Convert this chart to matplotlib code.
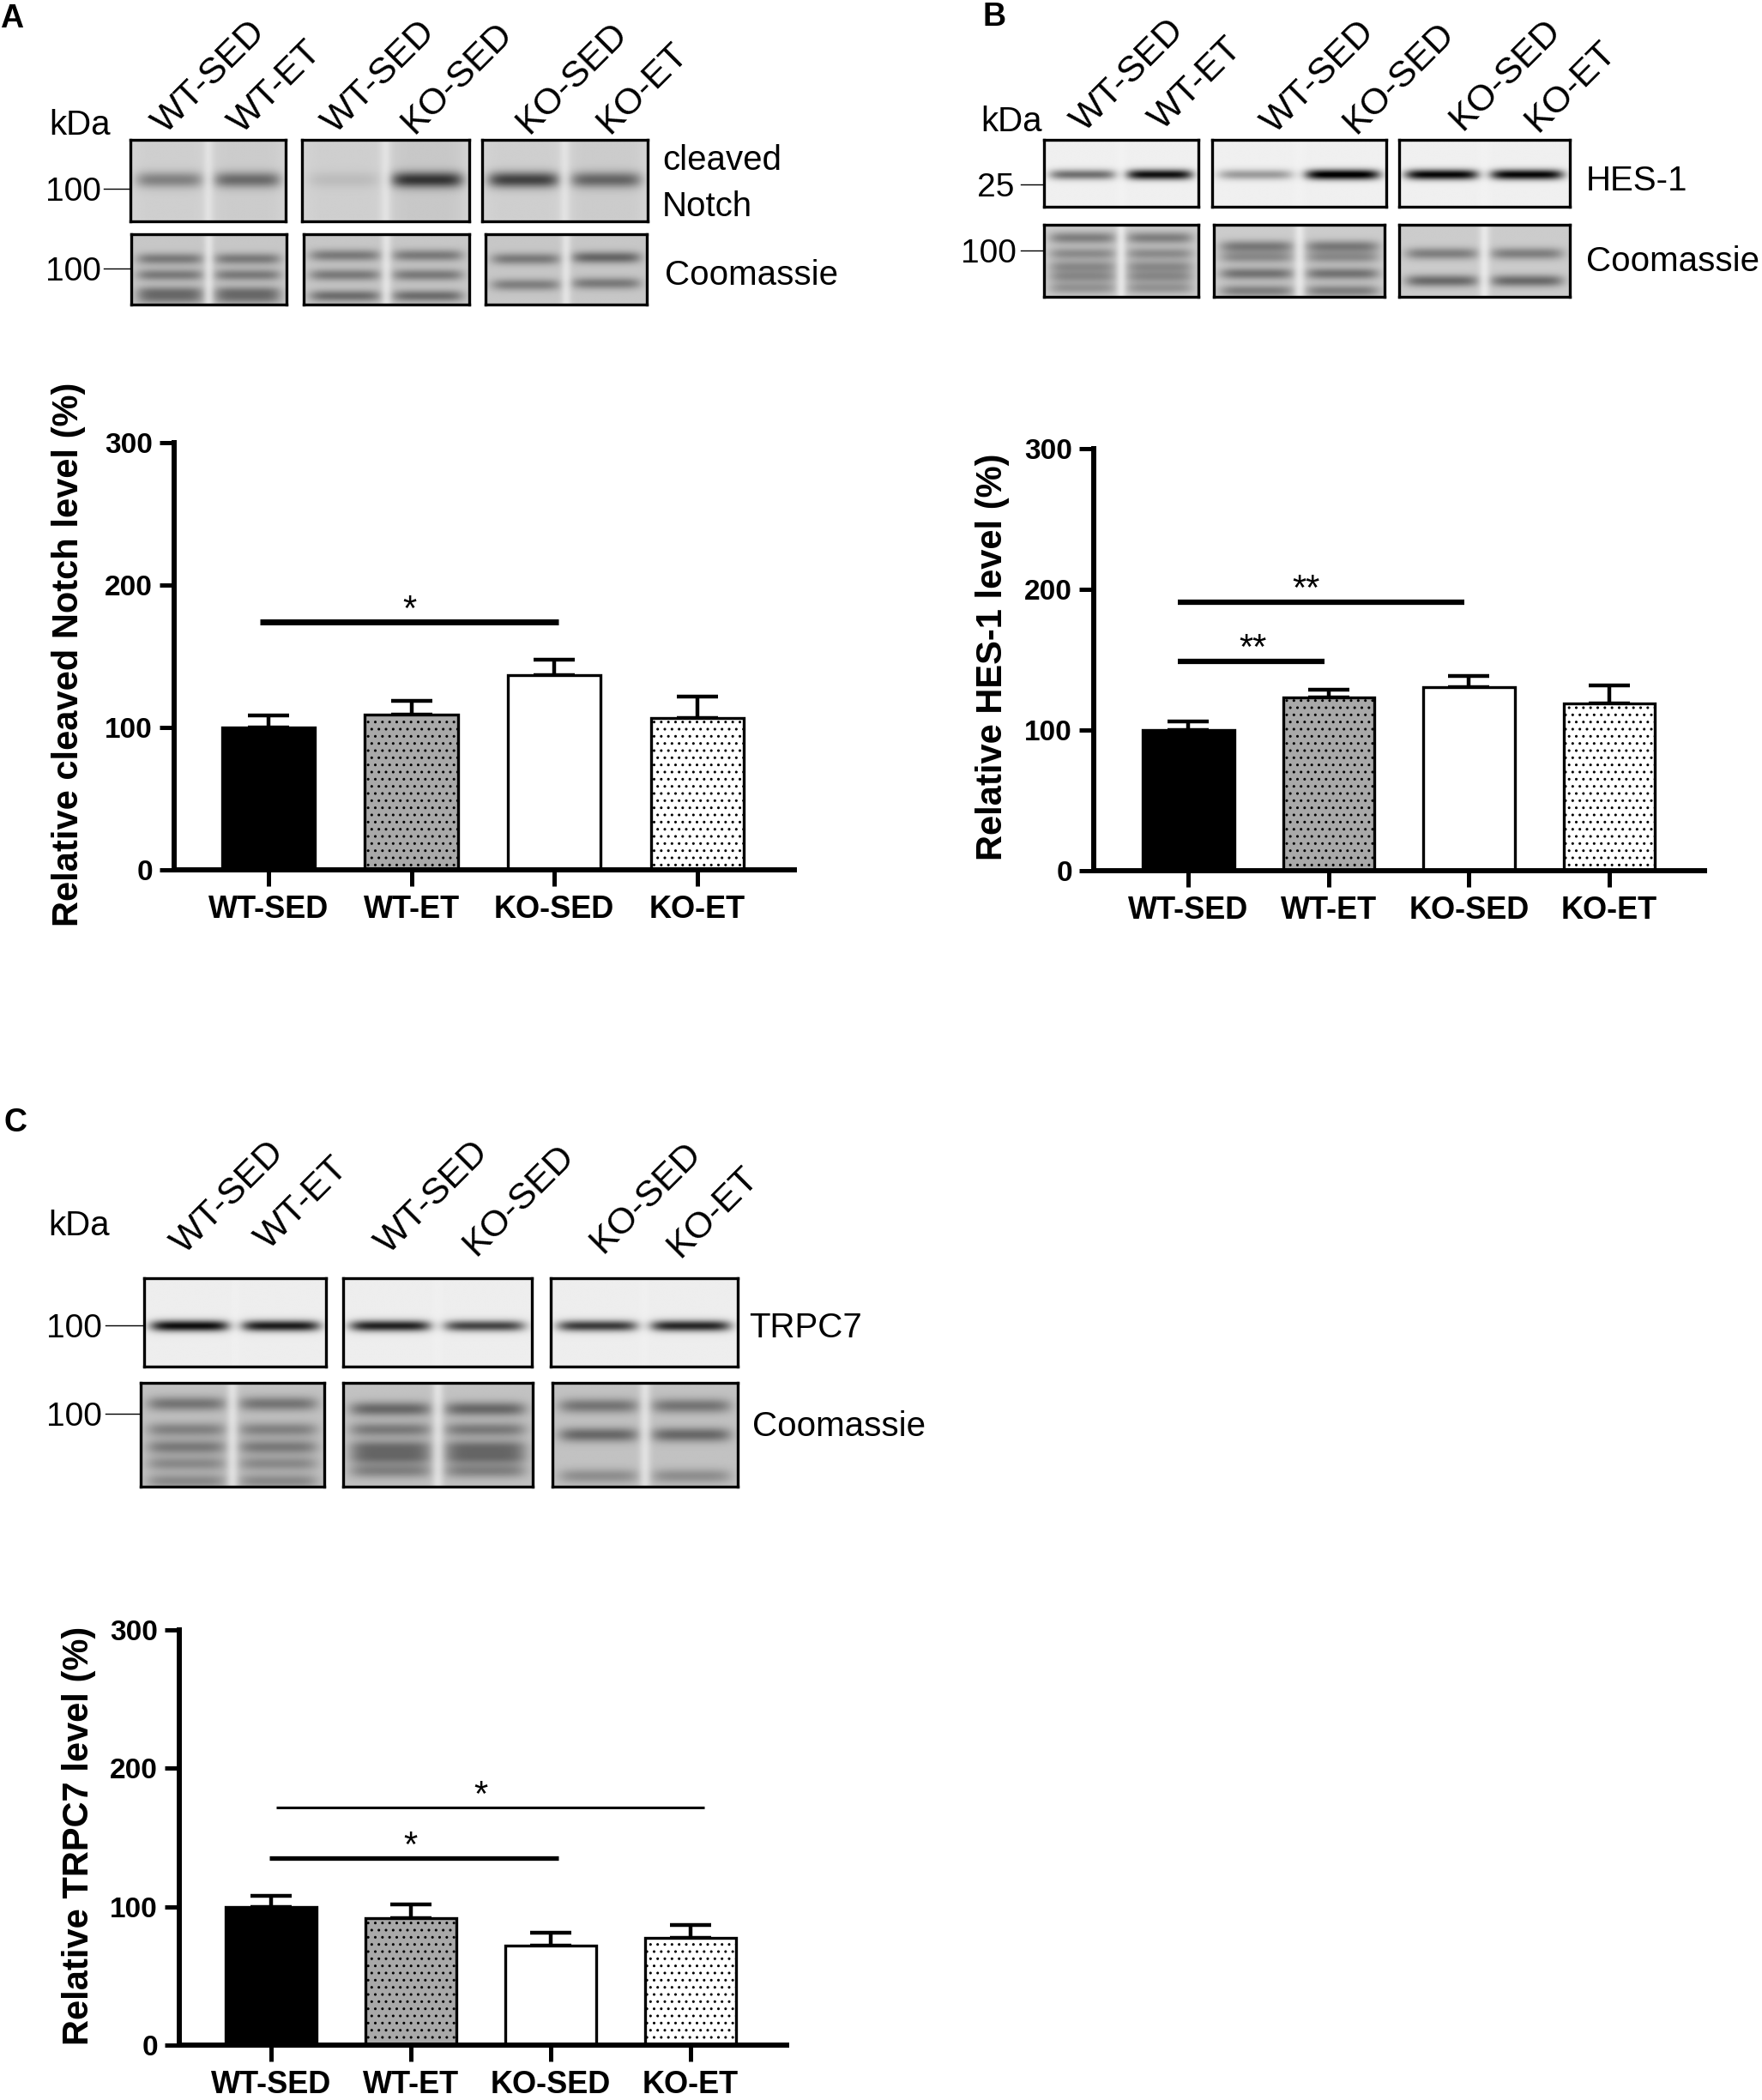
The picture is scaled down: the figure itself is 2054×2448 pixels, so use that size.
import numpy as np
import matplotlib
matplotlib.use("Agg")
import matplotlib.pyplot as plt

plt.rcParams['font.family'] = ['Liberation Sans', 'DejaVu Sans']
plt.rcParams['hatch.linewidth'] = 1.0

# ---------------- data ----------------
categories = ['WT-SED', 'WT-ET', 'KO-SED', 'KO-ET']
yticks = [0, 100, 200, 300]

notch_mean = [100, 109, 137, 106.5]
notch_sem = [8.7, 9.6, 10.6, 15.0]
hes1_mean = [100, 123, 130.5, 119]
hes1_sem = [6.2, 5.5, 7.8, 12.7]
trpc7_mean = [100, 92, 72, 77.5]
trpc7_sem = [7.6, 9.9, 9.4, 9.0]

# significance brackets (category positions, height, label)
notch_sig_x1 = [-0.06]
notch_sig_x2 = [2.03]
notch_sig_y = [174]
notch_sig_tx = [0.99]
notch_sig_txt = ['*']

hes1_sig_x1 = [-0.075, -0.075]
hes1_sig_x2 = [0.97, 1.97]
hes1_sig_y = [149, 191]
hes1_sig_tx = [0.46, 0.84]
hes1_sig_txt = ['**', '**']

trpc7_sig_x1 = [-0.01, 0.04]
trpc7_sig_x2 = [2.06, 3.10]
trpc7_sig_y = [135, 171.5]
trpc7_sig_tx = [1.0, 1.5]
trpc7_sig_txt = ['*', '*']

lane_groups = [['WT-SED', 'WT-ET'], ['WT-SED', 'KO-SED'], ['KO-SED', 'KO-ET']]

# band intensities per blot box (two lanes each)
notch_band = [[0.30, 0.38], [0.07, 0.58], [0.55, 0.40]]
hes1_band = [[0.50, 0.88], [0.33, 0.97], [0.92, 0.92]]
trpc7_band = [[0.88, 0.82], [0.80, 0.66], [0.70, 0.78]]

# ---------------- style ----------------
W, H = 2054, 2448
bar_fill = ['black', '#a9a9a9', 'white', 'white']
bar_hatch = [None, '..', None, '..']

fig = plt.figure(figsize=(W / 100, H / 100), dpi=100)
ov = fig.add_axes([0, 0, 1, 1], zorder=5)
ov.set_xlim(0, W)
ov.set_ylim(H, 0)
ov.axis('off')


def rect(L, R, T, B):
    return [L / W, 1 - B / H, (R - L) / W, (B - T) / H]


def gel(lane_bands, bg, sig, gap=0.35, h=160, w=320, extra=None):
    yy = np.linspace(0, 1, h)[:, None]
    xx = np.linspace(0, 1, w)[None, :]
    img = np.full((h, w), float(bg))
    for i, bands in enumerate(lane_bands):
        cx = 0.25 + 0.5 * i
        lane = np.exp(-((xx - cx) / 0.215) ** 6)
        for pos, inten in bands:
            img = img + inten * lane * np.exp(-0.5 * ((yy - pos) / sig) ** 2)
        if extra is not None:
            img = img + extra[i] * lane
    stripe = np.exp(-0.5 * ((xx - 0.5) / 0.022) ** 2)
    img = img * (1 - gap * stripe)
    return np.clip(img, 0, 1)


def blot_box(L, R, T, B, img):
    a = fig.add_axes(rect(L, R, T, B))
    a.imshow(img, cmap='gray_r', vmin=0, vmax=1, aspect='auto', interpolation='bilinear')
    a.set_xticks([])
    a.set_yticks([])
    for s in a.spines.values():
        s.set_linewidth(2.4)
        s.set_color('black')
    return a


def marker(y, text_right, x0, x1, label):
    ov.text(text_right, y + 14, label, ha='right', va='baseline', fontsize=28)
    ov.plot([x0, x1], [y, y], color='black', lw=1.0)


def lane_labels(xs, ys):
    names = [n for g in lane_groups for n in g]
    for x, y, n in zip(xs, ys, names):
        ov.text(x, y, n, rotation=45, rotation_mode='anchor', ha='left',
                va='baseline', fontsize=31)


def bar_panel(L, R, T, B, xlim, means, sems, sx1, sx2, sy, stx, stxt, slw,
              ylabel, ylx, yly):
    ax = fig.add_axes(rect(L, R, T, B))
    x = np.arange(len(categories))
    ax.errorbar(x, means, yerr=[np.zeros(len(means)), sems], fmt='none',
                ecolor='black', elinewidth=3.2, capsize=17, capthick=3.2, zorder=1)
    bars = ax.bar(x, means, width=0.65, color=bar_fill, edgecolor='black',
                  linewidth=2.4, zorder=2)
    for b, h in zip(bars, bar_hatch):
        if h:
            b.set_hatch(h)
    for a1, a2, yv, tx, t, lw in zip(sx1, sx2, sy, stx, stxt, slw):
        ax.plot([a1, a2], [yv, yv], color='black', lw=lw, solid_capstyle='butt',
                zorder=3, clip_on=False)
        ax.text(tx, yv + 1.5, t, ha='center', va='baseline', fontsize=30)
    ax.set_xlim(*xlim)
    ax.set_ylim(0, 300)
    ax.set_yticks(yticks)
    ax.set_yticklabels([str(v) for v in yticks], fontsize=24, fontweight='bold')
    ax.set_xticks(x)
    ax.set_xticklabels(categories, fontsize=26, fontweight='bold')
    ax.tick_params(axis='y', length=12, width=3.6, pad=6)
    ax.tick_params(axis='x', length=14, width=3.6, pad=7)
    for s in ['top', 'right']:
        ax.spines[s].set_visible(False)
    for s in ['left', 'bottom']:
        ax.spines[s].set_linewidth(4.3)
    ax.patch.set_alpha(0)
    ov.text(ylx, yly, ylabel, rotation=90, ha='center', va='center',
            fontsize=30, fontweight='bold')
    return ax


# ======================= Panel A =======================
ov.text(0, 32, 'A', fontsize=27, fontweight='bold', va='baseline')
ov.text(57, 157, 'kDa', fontsize=29, va='baseline')
lane_labels([193, 282, 391, 483, 617, 710], [157] * 6)
A_top = [(152, 333), (352, 547), (562, 755)]
A_bot = [(153, 334), (354, 547), (566, 754)]
for (l, r), inten in zip(A_top, notch_band):
    blot_box(l, r, 163, 258, gel([[(0.49, inten[0])], [(0.49, inten[1])]],
                                 0.17, 0.07, extra=[0.02, 0.08 * inten[1]]))
A_coom = [
    [[(0.35, 0.30), (0.58, 0.30), (0.82, 0.28), (0.92, 0.25)]] * 2,
    [[(0.30, 0.30), (0.58, 0.30), (0.88, 0.35)]] * 2,
    [[(0.35, 0.30), (0.72, 0.28)], [(0.33, 0.38), (0.70, 0.30)]],
]
for (l, r), lb in zip(A_bot, A_coom):
    blot_box(l, r, 273, 355, gel(lb, 0.22, 0.06, gap=0.5))
marker(220, 118, 121, 152, '100')
marker(313, 118, 121, 153, '100')
ov.text(772, 188 + 10, 'cleaved', fontsize=29, va='baseline')
ov.text(772, 238 + 14, 'Notch', fontsize=29, va='baseline')
ov.text(775, 318 + 14, 'Coomassie', fontsize=29, va='baseline')

bar_panel(203, 926, 516, 1014, (-0.66, 3.68), notch_mean, notch_sem,
          notch_sig_x1, notch_sig_x2, notch_sig_y, notch_sig_tx, notch_sig_txt, [5.0],
          'Relative cleaved Notch level (%)', 80, 763)

# ======================= Panel B =======================
ov.text(1146, 30, 'B', fontsize=27, fontweight='bold', va='baseline')
ov.text(1143, 153, 'kDa', fontsize=29, va='baseline')
lane_labels([1264, 1355, 1486, 1580, 1705, 1793], [155, 153, 157, 157, 153, 155])
B_top = [(1217, 1397), (1413, 1616), (1631, 1830)]
B_bot = [(1217, 1397), (1415, 1614), (1631, 1830)]
for (l, r), inten in zip(B_top, hes1_band):
    blot_box(l, r, 163, 241, gel([[(0.52, inten[0])], [(0.52, inten[1])]],
                                 0.06, 0.055, gap=0.15))
B_coom = [
    [[(0.18, 0.30), (0.40, 0.25), (0.58, 0.25), (0.72, 0.25), (0.88, 0.22)]] * 2,
    [[(0.30, 0.32), (0.45, 0.25), (0.68, 0.35), (0.92, 0.30)]] * 2,
    [[(0.40, 0.30), (0.78, 0.38)]] * 2,
]
for (l, r), lb in zip(B_bot, B_coom):
    blot_box(l, r, 262, 346, gel(lb, 0.20, 0.06, gap=0.55))
marker(215, 1182, 1190, 1216, '25')
marker(292, 1185, 1190, 1216, '100')
ov.text(1849, 208 + 14, 'HES-1', fontsize=29, va='baseline')
ov.text(1849, 302 + 14, 'Coomassie', fontsize=29, va='baseline')

bar_panel(1275, 1987, 523, 1015, (-0.676, 3.68), hes1_mean, hes1_sem,
          hes1_sig_x1, hes1_sig_x2, hes1_sig_y, hes1_sig_tx, hes1_sig_txt, [4.5, 4.5],
          'Relative HES-1 level (%)', 1157, 766)

# ======================= Panel C =======================
ov.text(4, 1319, 'C', fontsize=27, fontweight='bold', va='baseline')
ov.text(56, 1440, 'kDa', fontsize=29, va='baseline')
lane_labels([215, 313, 453, 555, 702, 793], [1463, 1458, 1463, 1465, 1462, 1467])
C_top = [(168, 380), (400, 620), (642, 860)]
C_bot = [(164, 378), (400, 621), (644, 860)]
for (l, r), inten in zip(C_top, trpc7_band):
    blot_box(l, r, 1490, 1593, gel([[(0.54, inten[0])], [(0.54, inten[1])]],
                                   0.07, 0.045, gap=0.15))
C_coom = [
    [[(0.20, 0.30), (0.45, 0.25), (0.62, 0.28), (0.78, 0.22), (0.95, 0.22)]] * 2,
    [[(0.25, 0.35), (0.45, 0.28), (0.62, 0.30), (0.72, 0.30), (0.85, 0.25)]] * 2,
    [[(0.22, 0.30), (0.50, 0.35), (0.90, 0.20)]] * 2,
]
for (l, r), lb in zip(C_bot, C_coom):
    blot_box(l, r, 1612, 1733, gel(lb, 0.24, 0.05, gap=0.5))
marker(1545, 119, 123, 167, '100')
marker(1648, 119, 123, 163, '100')
ov.text(873, 1545 + 14, 'TRPC7', fontsize=29, va='baseline')
ov.text(877, 1660 + 14, 'Coomassie', fontsize=29, va='baseline')

bar_panel(209, 917, 1900, 2384, (-0.656, 3.69), trpc7_mean, trpc7_sem,
          trpc7_sig_x1, trpc7_sig_x2, trpc7_sig_y, trpc7_sig_tx, trpc7_sig_txt, [3.8, 2.2],
          'Relative TRPC7 level (%)', 92, 2140)

fig.savefig('out.png', dpi=100)
